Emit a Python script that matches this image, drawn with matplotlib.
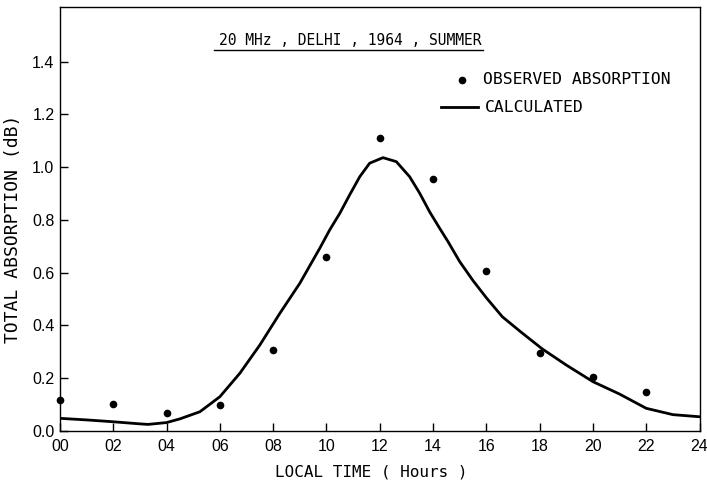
#!/usr/bin/env python3
# -*- coding: utf-8 -*-
"""Total absorption at 20 MHz, Delhi, summer 1964: observed vs calculated."""
import matplotlib

matplotlib.use("Agg")
import matplotlib.pyplot as plt  # noqa: E402

# observed absorption (dB) at even local hours
obs_hours = [0, 2, 4, 6, 8, 10, 12, 14, 16, 18, 20, 22]
obs_db = [0.118, 0.101, 0.068, 0.097, 0.307, 0.66, 1.112, 0.955, 0.605, 0.297, 0.206, 0.149]

# calculated curve
calc_hours = [0, 1, 2, 3, 3.3, 4, 4.5, 5.25, 6, 6.75, 7.5, 8.25, 9, 9.75, 10.12, 10.5,
              10.87, 11.25, 11.62, 12.12, 12.62, 13.12, 13.5, 13.87, 14.25, 14.56, 15,
              15.5, 16, 16.6, 17.3, 18.1, 19, 20, 21, 22, 23, 24]
calc_db = [0.048, 0.042, 0.035, 0.027, 0.025, 0.032, 0.046, 0.073, 0.13, 0.219, 0.326,
           0.446, 0.56, 0.693, 0.762, 0.825, 0.895, 0.964, 1.015, 1.036, 1.021, 0.964,
           0.901, 0.831, 0.768, 0.718, 0.642, 0.57, 0.505, 0.433, 0.375, 0.311, 0.25,
           0.187, 0.14, 0.086, 0.062, 0.054]

xticks = list(range(0, 25, 2))
xtick_labels = ["%02d" % h for h in xticks]
yticks = [0.0, 0.2, 0.4, 0.6, 0.8, 1.0, 1.2, 1.4]

MONO = "DejaVu Sans Mono"
TICKFONT = "Liberation Sans"


def main():
    fig = plt.figure(figsize=(7.07, 4.84), dpi=100)
    ax = fig.add_axes([0.0849, 0.1095, 0.9045, 0.876])
    ax.plot(calc_hours, calc_db, color="black", lw=2.0, solid_joinstyle="round")
    ax.plot(obs_hours, obs_db, "o", color="black", ms=4.5, clip_on=False)

    ax.set_xlim(0, 24)
    ax.set_ylim(0, 1.607)
    ax.set_xticks(xticks)
    ax.set_xticklabels(xtick_labels, family=TICKFONT)
    ax.set_yticks(yticks)
    ax.set_yticklabels(["%.1f" % v for v in yticks], family=TICKFONT)
    ax.tick_params(direction="in", length=6, width=1, labelsize=11.5)
    ax.tick_params(axis="x", pad=6)
    ax.tick_params(axis="y", pad=4)
    for s in ax.spines.values():
        s.set_linewidth(1)

    ax.set_xlabel("LOCAL TIME ( Hours )", fontsize=11.5, family=MONO)
    ax.xaxis.set_label_coords(0.486, -0.078)
    ax.set_ylabel("TOTAL ABSORPTION (dB)", fontsize=13, family=MONO)
    ax.yaxis.set_label_coords(-0.06, 0.476)

    # underlined title inside the frame
    ax.text(0.4535, 0.921, "20 MHz , DELHI , 1964 , SUMMER", transform=ax.transAxes,
            ha="center", va="center", fontsize=10.5, family=MONO)
    ax.plot([0.241, 0.661], [0.899, 0.899], transform=ax.transAxes, color="black", lw=1)

    # hand-drawn legend
    ax.plot([15.07], [1.331], "o", color="black", ms=4.5)
    ax.text(15.87, 1.331, "OBSERVED ABSORPTION", va="center", fontsize=11.8, family=MONO)
    ax.plot([14.31, 15.67], [1.228, 1.228], color="black", lw=2.0)
    ax.text(15.94, 1.228, "CALCULATED", va="center", fontsize=11.8, family=MONO)

    fig.savefig("out.png", dpi=100)


if __name__ == "__main__":
    main()
